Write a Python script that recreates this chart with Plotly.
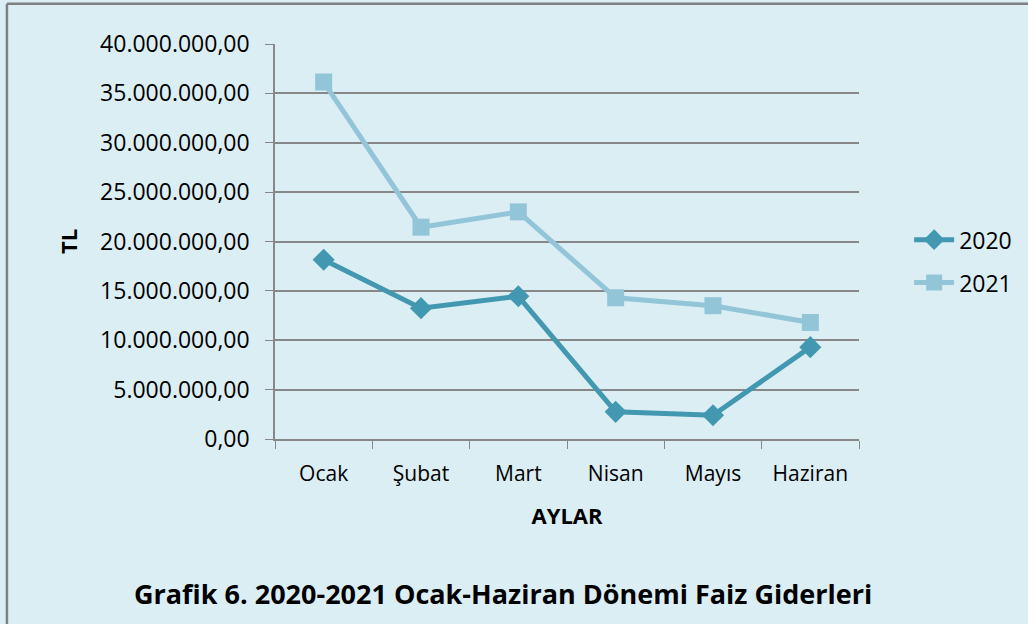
import plotly.graph_objects as go

# months and monthly interest expenses (TL)
months = ["Ocak", "Şubat", "Mart", "Nisan", "Mayıs", "Haziran"]
faiz_2020 = [18150000, 13250000, 14450000, 2750000, 2400000, 9300000]
faiz_2021 = [36150000, 21450000, 23000000, 14300000, 13500000, 11800000]

bg = "#DBEEF4"
grid = "#878787"
font_name = "Open Sans"

fig = go.Figure()

fig.add_trace(go.Scatter(
    x=months, y=faiz_2020, mode="lines+markers", name="2020", legendgroup="a",
    line=dict(color="#4298B1", width=5),
    marker=dict(symbol="diamond", size=17, color="#4298B1")
))
fig.add_trace(go.Scatter(
    x=months, y=faiz_2021, mode="lines+markers", name="2021", legendgroup="b",
    line=dict(color="#93C5D8", width=5),
    marker=dict(symbol="square", size=17, color="#93C5D8")
))

fig.update_layout(
    width=1028, height=624,
    paper_bgcolor=bg, plot_bgcolor=bg,
    margin=dict(l=275, r=168, t=44, b=185),
    separators=",.",
    font=dict(family=font_name, size=21, color="#000000"),
    showlegend=True,
    legend=dict(x=1.084, y=0.45, xanchor="left", yanchor="middle",
                bgcolor="rgba(0,0,0,0)", font=dict(size=23),
                itemwidth=40, tracegroupgap=10),
    xaxis=dict(
        showline=True, linecolor=grid, linewidth=1.5,
        ticks="outside", ticklen=8, tickcolor=grid, tickson="boundaries",
        showgrid=False, range=[-0.5, 5.5], tickfont=dict(size=21),
        ticklabelstandoff=15,
        title=dict(text="<b>AYLAR</b>", standoff=23, font=dict(size=22)),
    ),
    yaxis=dict(
        range=[0, 40000000], dtick=5000000, tickformat=",.2f",
        showline=True, linecolor=grid, linewidth=1.5,
        ticks="outside", ticklen=8, tickcolor=grid,
        showgrid=True, gridcolor=grid, gridwidth=1.5,
        zeroline=False, tickfont=dict(size=23), ticklabelstandoff=11,
        title=dict(text="<b>TL</b>", standoff=16, font=dict(size=22)),
    ),
    # outer frame: only the top and left edges show in the picture
    shapes=[
        dict(type="line", xref="paper", yref="paper",
             x0=-0.459, x1=1.3, y0=1.102, y1=1.102,
             line=dict(color="#808080", width=2.5)),
        dict(type="line", xref="paper", yref="paper",
             x0=-0.459, x1=-0.459, y0=1.102, y1=-0.5,
             line=dict(color="#808080", width=2.5)),
    ],
    annotations=[dict(
        text="<b>Grafik 6. 2020-2021 Ocak-Haziran Dönemi Faiz Giderleri</b>",
        xref="paper", yref="paper", x=0.39, y=-0.39,
        xanchor="center", yanchor="middle", showarrow=False,
        font=dict(size=27)
    )],
)

fig.write_html("out.html", config={"displayModeBar": False})

# drop the default page margin so the figure sits at the window's corner
with open("out.html", encoding="utf-8") as f:
    page = f.read()
page = page.replace("<head>", "<head><style>body{margin:0;}</style>", 1)
with open("out.html", "w", encoding="utf-8") as f:
    f.write(page)
